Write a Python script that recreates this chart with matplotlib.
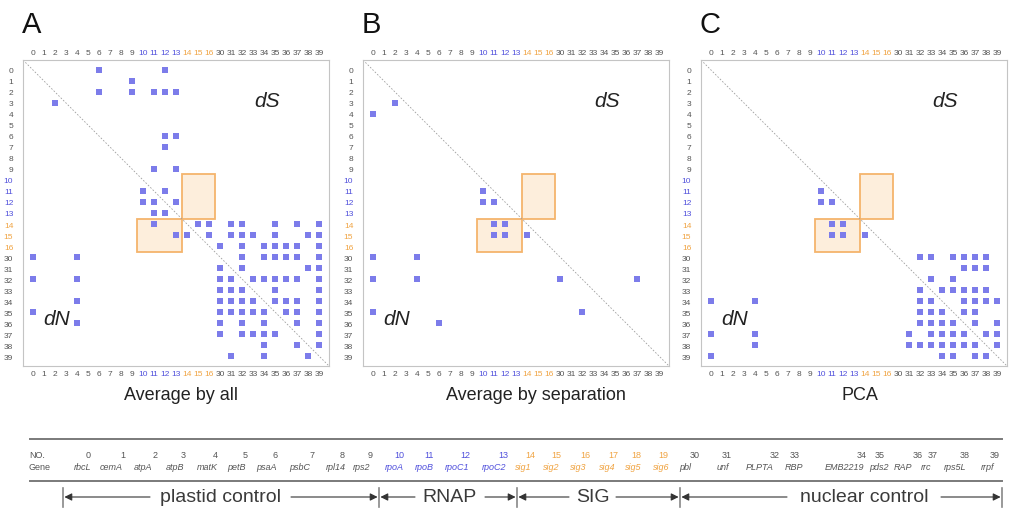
import matplotlib
matplotlib.use("Agg")
import matplotlib.pyplot as plt
from matplotlib.patches import Rectangle

plt.rcParams["font.family"] = ["Liberation Sans", "DejaVu Sans"]

# gene numbers along both axes of each matrix
ids = list(range(0, 17)) + list(range(30, 40))

# significant gene pairs: row gene -> column genes (upper = dS, lower = dN)
pairs_all = {
    0: [6, 12], 1: [9], 2: [6, 9, 11, 12, 13], 3: [2],
    6: [12, 13], 7: [12], 9: [11, 13], 11: [10, 12],
    12: [10, 11, 13], 13: [11, 12],
    14: [11, 15, 16, 31, 32, 35, 37, 39],
    15: [13, 14, 16, 31, 32, 33, 35, 38, 39],
    16: [30, 32, 34, 35, 36, 37, 39],
    30: [0, 4, 32, 34, 35, 36, 37, 39],
    31: [30, 32, 38, 39],
    32: [0, 4, 30, 31, 33, 34, 35, 36, 37, 39],
    33: [30, 31, 32, 35, 39],
    34: [4, 30, 31, 32, 33, 35, 36, 37, 39],
    35: [0, 30, 31, 32, 33, 34, 36, 37, 39],
    36: [4, 30, 32, 34, 37, 39],
    37: [30, 32, 33, 34, 35, 39],
    38: [34, 37, 39],
    39: [31, 34, 38],
}
pairs_sep = {
    3: [2], 4: [0], 11: [10], 12: [10, 11],
    14: [11, 12], 15: [11, 12, 14],
    30: [0, 4], 32: [0, 4, 30, 37], 35: [0, 32], 36: [6],
}
pairs_pca = {
    11: [10], 12: [10, 11], 14: [11, 12], 15: [11, 12, 14],
    30: [32, 33, 35, 36, 37, 38],
    31: [36, 37, 38],
    32: [33, 35],
    33: [32, 34, 35, 36, 37, 38],
    34: [0, 4, 32, 33, 36, 37, 38, 39],
    35: [32, 33, 34, 36, 37],
    36: [32, 33, 34, 35, 37, 39],
    37: [0, 4, 31, 33, 34, 35, 36, 38, 39],
    38: [4, 31, 32, 33, 34, 35, 36, 37, 39],
    39: [0, 34, 35, 37, 38],
}

panel_letters = ["A", "B", "C"]
panel_titles = ["Average by all", "Average by separation", "PCA"]
panel_pairs = [pairs_all, pairs_sep, pairs_pca]

# gene table
table_no = list(range(0, 20)) + list(range(30, 40))
table_gene = ["rbcL", "cemA", "atpA", "atpB", "matK", "petB", "psaA", "psbC",
              "rpl14", "rps2", "rpoA", "rpoB", "rpoC1", "rpoC2",
              "sig1", "sig2", "sig3", "sig4", "sig5", "sig6",
              "pbl", "unf", "PLPTA", "RBP", "EMB2219", "pds2", "RAP", "rrc",
              "rps5L", "rrpf"]
groups = ["plastid control", "RNAP", "SIG", "nuclear control"]

# layout (pixels)
W, H = 1012, 510
axes_left = [23, 363, 701]
axes_top, axes_size = 61, 306
title_x = [181, 536, 860]
num_x = [88, 123, 155, 183, 215, 245, 275, 312, 342, 370, 399, 429, 465, 503,
         530, 556, 585, 613, 636, 663, 695, 727, 775, 795, 862, 880, 918, 933,
         965, 995]
gene_x = [83, 111, 143, 175, 207, 236, 266, 300, 336, 362, 394, 424, 457, 494,
          523, 551, 578, 607, 633, 661, 685, 723, 760, 794, 844, 879, 903, 926,
          955, 988]
group_bars = [63, 379, 517, 680, 1002]
group_text = [(158, 283), (423, 477), (577, 608), (795, 933)]

BLUE = "#5050dc"
ORANGE = "#f0a443"
GRAY = "#555555"
MARK = "#7c7cea"


def id_color(n):
    if 10 <= n <= 13:
        return BLUE
    if 14 <= n <= 19:
        return ORANGE
    return GRAY


pos = {n: i for i, n in enumerate(ids)}
lim = (-0.9, len(ids) - 0.1)

fig = plt.figure(figsize=(W / 100, H / 100), dpi=100)

for k in range(3):
    left = axes_left[k]
    ax = fig.add_axes([left / W, 1 - (axes_top + axes_size) / H,
                       axes_size / W, axes_size / H])
    ax.set_xlim(lim)
    ax.set_ylim(lim[1], lim[0])

    # SIG x RNAP blocks
    x_sig = pos[14] - 0.5
    x_rnap = pos[10] - 0.5
    w_sig = pos[16] - pos[14] + 1
    w_rnap = pos[13] - pos[10] + 1
    for (x0, y0, w, h) in [(x_sig, x_rnap, w_sig, w_rnap),
                           (x_rnap, x_sig, w_rnap, w_sig)]:
        ax.add_patch(Rectangle((x0, y0), w, h, facecolor="#fdeedc",
                               edgecolor="#f5b46c", lw=1.3, zorder=1))

    ax.plot(lim, lim, color="#a0a0a0", lw=0.6, ls=(0, (2, 2)), zorder=2)

    xs, ys = [], []
    for r, cols in panel_pairs[k].items():
        for c in cols:
            xs.append(pos[c])
            ys.append(pos[r])
    ax.scatter(xs, ys, marker="s", s=17, color=MARK, linewidths=0, zorder=3)

    ax.text(21.3, 2.8, "dS", style="italic", fontsize=15, ha="center",
            va="center", color="#222222")
    ax.text(2.2, 22.6, "dN", style="italic", fontsize=15, ha="center",
            va="center", color="#222222")

    ax.set_xticks(range(len(ids)))
    ax.set_xticklabels([str(n) for n in ids])
    ax.set_yticks(range(len(ids)))
    ax.set_yticklabels([str(n) for n in ids])
    ax.tick_params(axis="x", top=True, labeltop=True, length=0, pad=3,
                   labelsize=6)
    ax.tick_params(axis="y", length=0, pad=7, labelsize=6)
    for n, t in zip(ids, ax.xaxis.get_major_ticks()):
        t.label1.set_color(id_color(n))
        t.label2.set_color(id_color(n))
    for n, t in zip(ids, ax.yaxis.get_major_ticks()):
        t.label1.set_color(id_color(n))
    for sp in ax.spines.values():
        sp.set_color("#c4c4c4")
        sp.set_linewidth(0.8)

    fig.text((left - 1) / W, 1 - 33 / H, panel_letters[k], fontsize=21,
             ha="left", va="baseline", color="#111111")
    fig.text(title_x[k] / W, 1 - 395 / H, panel_titles[k], fontsize=13,
             ha="center", va="center", color="#222222")

# gene table and group ranges below the matrices
tab = fig.add_axes([0, 0, 1, 1])
tab.set_xlim(0, W)
tab.set_ylim(H, 0)
tab.axis("off")

for y in (440, 482):
    tab.plot([30, 1002], [y, y], color="#7a7a7a", lw=1.4)

tab.text(29, 456, "NO.", fontsize=6.5, ha="left", va="center", color=GRAY)
tab.text(29, 468, "Gene", fontsize=6.5, ha="left", va="center", color=GRAY)
for n, g, xn, xg in zip(table_no, table_gene, num_x, gene_x):
    tab.text(xn, 456, str(n), fontsize=6.5, ha="center", va="center",
             color=id_color(n))
    tab.text(xg, 468, g, fontsize=6.5, style="italic", ha="center",
             va="center", color=id_color(n))

y_arrow = 498
for xb in group_bars:
    tab.plot([xb, xb], [489, 508], color="#888888", lw=1.2)
for i, name in enumerate(groups):
    x0, x1 = group_text[i]
    tab.text((x0 + x1) / 2, y_arrow, name, fontsize=14, ha="center",
             va="center", color="#3a3a3a")
    arrow = dict(arrowstyle="-|>", mutation_scale=11, lw=0.8,
                 color="#333333", shrinkA=0, shrinkB=1)
    tab.annotate("", xy=(group_bars[i], y_arrow), xytext=(x0 - 8, y_arrow),
                 arrowprops=arrow)
    tab.annotate("", xy=(group_bars[i + 1], y_arrow),
                 xytext=(x1 + 8, y_arrow), arrowprops=arrow)

fig.savefig("out.png", dpi=100)
